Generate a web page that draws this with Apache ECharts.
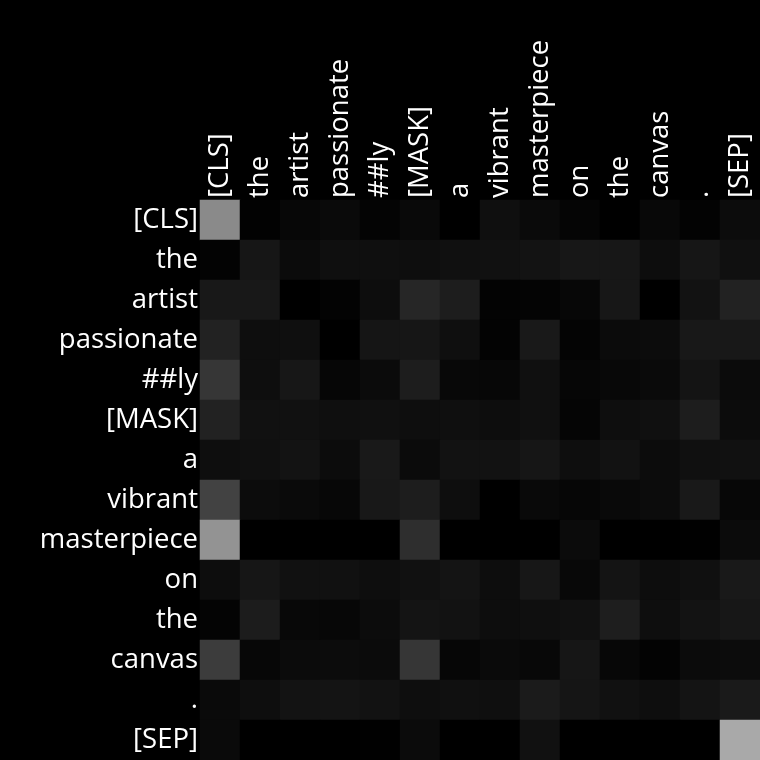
<!DOCTYPE html>
<html>
<head>
<meta charset="utf-8">
<script src="https://cdn.jsdelivr.net/npm/echarts@6/dist/echarts.min.js"></script>
<style>
html,body{margin:0;padding:0;background:#000;}
#chart{width:760px;height:760px;}
</style>
</head>
<body>
<div id="chart"></div>
<script>
const tokens = ['[CLS]','the','artist','passionate','##ly','[MASK]','a','vibrant','masterpiece','on','the','canvas','.','[SEP]'];

const rowCLS         = [0.541,0.008,0.027,0.039,0.016,0.035,0,0.059,0.039,0.020,0,0.031,0.012,0.047];
const rowThe1        = [0.012,0.086,0.043,0.059,0.059,0.055,0.063,0.067,0.075,0.090,0.090,0.051,0.086,0.063];
const rowArtist      = [0.094,0.094,0,0.012,0.051,0.149,0.114,0.012,0.016,0.027,0.090,0,0.071,0.133];
const rowPassionate  = [0.133,0.055,0.059,0,0.082,0.086,0.059,0.012,0.098,0.016,0.043,0.047,0.094,0.094];
const rowLy          = [0.212,0.055,0.090,0.024,0.043,0.114,0.031,0.027,0.063,0.024,0.031,0.039,0.078,0.043];
const rowMask        = [0.133,0.067,0.067,0.059,0.063,0.055,0.059,0.051,0.063,0.020,0.055,0.063,0.114,0.047];
const rowA           = [0.055,0.063,0.075,0.047,0.098,0.043,0.071,0.071,0.086,0.055,0.071,0.047,0.063,0.067];
const rowVibrant     = [0.259,0.047,0.039,0.027,0.094,0.114,0.055,0,0.035,0.024,0.035,0.047,0.098,0.027];
const rowMasterpiece = [0.576,0,0,0,0,0.180,0,0,0,0.043,0,0,0.004,0.043];
const rowOn          = [0.051,0.086,0.067,0.067,0.055,0.067,0.078,0.051,0.090,0.031,0.078,0.051,0.063,0.098];
const rowThe2        = [0.016,0.110,0.031,0.027,0.047,0.078,0.071,0.051,0.059,0.067,0.118,0.055,0.075,0.090];
const rowCanvas      = [0.235,0.027,0.043,0.047,0.043,0.212,0.024,0.039,0.031,0.086,0.027,0.012,0.043,0.047];
const rowPeriod      = [0.039,0.055,0.075,0.078,0.071,0.055,0.063,0.059,0.106,0.082,0.067,0.055,0.078,0.102];
const rowSEP         = [0.039,0,0,0,0.004,0.043,0,0,0.067,0,0,0,0,0.663];

const rows = [rowCLS,rowThe1,rowArtist,rowPassionate,rowLy,rowMask,rowA,rowVibrant,rowMasterpiece,rowOn,rowThe2,rowCanvas,rowPeriod,rowSEP];

const data = [];
rows.forEach((r, yi) => r.forEach((v, xi) => data.push([xi, yi, v])));

const chart = echarts.init(document.getElementById('chart'));
const fontFamily = 'Open Sans';
chart.setOption({
  backgroundColor: '#000',
  animation: false,
  grid: {left: 200, top: 200, right: 0, bottom: 0},
  xAxis: {
    type: 'category',
    position: 'top',
    data: tokens.map((t, i) => String(i)),
    axisLine: {show: false},
    axisTick: {show: false},
    splitLine: {show: false},
    axisLabel: {
      rotate: -90,
      margin: 2,
      color: '#fff',
      fontSize: 27.5,
      fontFamily: fontFamily,
      interval: 0,
      formatter: (v) => tokens[+v]
    }
  },
  yAxis: {
    type: 'category',
    inverse: true,
    data: tokens.map((t, i) => String(i)),
    axisLine: {show: false},
    axisTick: {show: false},
    splitLine: {show: false},
    axisLabel: {
      margin: 2,
      color: '#fff',
      fontSize: 27.5,
      fontFamily: fontFamily,
      interval: 0,
      padding: [3, 0, 0, 0],
      formatter: (v) => tokens[+v]
    }
  },
  visualMap: {
    show: false,
    min: 0,
    max: 1,
    calculable: false,
    inRange: {color: ['#000000', '#ffffff']}
  },
  series: [{
    type: 'heatmap',
    data: data,
    itemStyle: {borderWidth: 0},
    emphasis: {disabled: true}
  }]
});
</script>
</body>
</html>
